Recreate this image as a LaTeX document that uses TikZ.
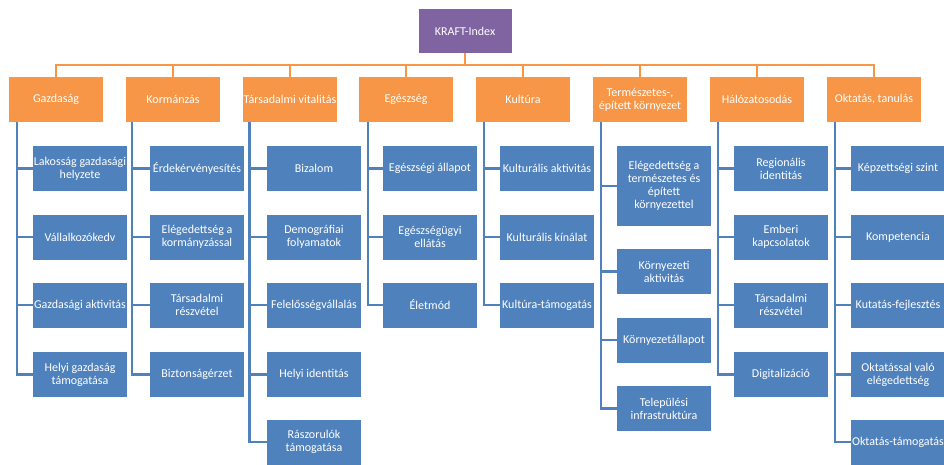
\documentclass[tikz,border=0pt]{standalone}
\usepackage{fontspec}
\setmainfont{Carlito}
\definecolor{kraftpurple}{HTML}{8064A2}
\definecolor{dimorange}{HTML}{F79646}
\definecolor{itemblue}{HTML}{4F81BD}
\tikzset{
  box/.style={text=white, minimum width=94pt, minimum height=45pt, inner sep=1pt, align=center, font=\fontsize{12}{13}\selectfont},
  root/.style={box, fill=kraftpurple, minimum width=93pt, minimum height=44pt},
  dim/.style={box, fill=dimorange},
  item/.style={box, fill=itemblue},
  busline/.style={draw=dimorange, line width=2.5pt},
  itemline/.style={draw=itemblue, line width=2.5pt}
}
\begin{document}
\begin{tikzpicture}[x=1pt,y=-1pt]
      \useasboundingbox (0,0) rectangle (944,464);
      \path
        (465,31) node[root] (0){KRAFT-Index}
        (56,99.5) node[dim] (1){Gazdaság}
        (173,99.5) node[dim] (2){Kormánzás}
        (290,99.5) node[dim] (3){Társadalmi vitalitás}
        (406,99.5) node[dim] (4){Egészség}
        (523,99.5) node[dim] (5){Kultúra}
        (640,99.5) node[dim] (6){Természetes-,\\épített környezet}
        (757,99.5) node[dim] (7){Hálózatosodás}
        (874,99.5) node[dim] (8){Oktatás, tanulás};
      \path
        (80,168.5) node[item] (1a){Lakosság gazdasági\\helyzete}
        (80,237) node[item] (1b){Vállalkozókedv}
        (80,305) node[item] (1c){Gazdasági aktivitás}
        (80,374.5) node[item] (1d){Helyi gazdaság\\támogatása}
        (197,168.5) node[item] (2a){Érdekérvényesítés}
        (197,237) node[item] (2b){Elégedettség a\\kormányzással}
        (197,305) node[item] (2c){Társadalmi\\részvétel}
        (197,374.5) node[item] (2d){Biztonságérzet}
        (314,168.5) node[item] (3a){Bizalom}
        (314,237) node[item] (3b){Demográfiai\\folyamatok}
        (314,305) node[item] (3c){Felelősségvállalás}
        (314,374.5) node[item] (3d){Helyi identitás}
        (314,442) node[item] (3e){Rászorulók\\támogatása}
        (430,168.5) node[item] (4a){Egészségi állapot}
        (430,237) node[item] (4b){Egészségügyi\\ellátás}
        (430,305) node[item] (4c){Életmód}
        (547,168.5) node[item] (5a){Kulturális aktivitás}
        (547,237) node[item] (5b){Kulturális kínálat}
        (547,305) node[item] (5c){Kultúra-támogatás}
        (664,186) node[item, minimum height=80pt] (6a){Elégedettség a\\természetes és\\épített\\környezettel}
        (664,271.5) node[item] (6b){Környezeti\\aktivitás}
        (664,340) node[item] (6c){Környezetállapot}
        (664,408.5) node[item] (6d){Települési\\infrastruktúra}
        (781,168.5) node[item] (7a){Regionális\\identitás}
        (781,237) node[item] (7b){Emberi\\kapcsolatok}
        (781,305) node[item] (7c){Társadalmi\\részvétel}
        (781,374.5) node[item] (7d){Digitalizáció}
        (898,168.5) node[item] (8a){Képzettségi szint}
        (898,237) node[item] (8b){Kompetencia}
        (898,305) node[item] (8c){Kutatás-fejlesztés}
        (898,374.5) node[item] (8d){Oktatással való\\elégedettség}
        (898,442) node[item] (8e){Oktatás-támogatás};
      \coordinate (bus) at (465,65);
      \begin{scope}[busline]
        \draw (0.south) -- (bus);
        \draw (bus) -| (1.north);
        \draw (bus) -| (2.north);
        \draw (bus) -| (3.north);
        \draw (bus) -| (4.north);
        \draw (bus) -| (5.north);
        \draw (bus) -| (6.north);
        \draw (bus) -| (7.north);
        \draw (bus) -| (8.north);
      \end{scope}
      \begin{scope}[itemline]
        \draw ([xshift=8pt]1.south west) |- (1a.west);
        \draw ([xshift=8pt]1.south west) |- (1b.west);
        \draw ([xshift=8pt]1.south west) |- (1c.west);
        \draw ([xshift=8pt]1.south west) |- (1d.west);
        \draw ([xshift=6pt]2.south west) |- (2a.west);
        \draw ([xshift=6pt]2.south west) |- (2b.west);
        \draw ([xshift=6pt]2.south west) |- (2c.west);
        \draw ([xshift=6pt]2.south west) |- (2d.west);
        \draw ([xshift=7pt]3.south west) |- (3a.west);
        \draw ([xshift=7pt]3.south west) |- (3b.west);
        \draw ([xshift=7pt]3.south west) |- (3c.west);
        \draw ([xshift=7pt]3.south west) |- (3d.west);
        \draw ([xshift=7pt]3.south west) |- (3e.west);
        \draw ([xshift=9pt]4.south west) |- (4a.west);
        \draw ([xshift=9pt]4.south west) |- (4b.west);
        \draw ([xshift=9pt]4.south west) |- (4c.west);
        \draw ([xshift=8pt]5.south west) |- (5a.west);
        \draw ([xshift=8pt]5.south west) |- (5b.west);
        \draw ([xshift=8pt]5.south west) |- (5c.west);
        \draw ([xshift=8pt]6.south west) |- (6a.west);
        \draw ([xshift=8pt]6.south west) |- (6b.west);
        \draw ([xshift=8pt]6.south west) |- (6c.west);
        \draw ([xshift=8pt]6.south west) |- (6d.west);
        \draw ([xshift=8pt]7.south west) |- (7a.west);
        \draw ([xshift=8pt]7.south west) |- (7b.west);
        \draw ([xshift=8pt]7.south west) |- (7c.west);
        \draw ([xshift=8pt]7.south west) |- (7d.west);
        \draw ([xshift=8pt]8.south west) |- (8a.west);
        \draw ([xshift=8pt]8.south west) |- (8b.west);
        \draw ([xshift=8pt]8.south west) |- (8c.west);
        \draw ([xshift=8pt]8.south west) |- (8d.west);
        \draw ([xshift=8pt]8.south west) |- (8e.west);
      \end{scope}
    \end{tikzpicture}
\end{document}
